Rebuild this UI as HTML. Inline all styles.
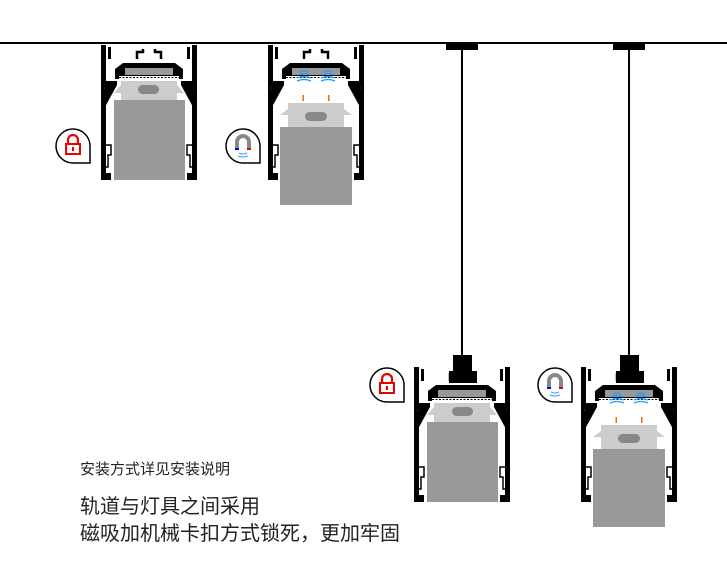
<!DOCTYPE html>
<html><head><meta charset="utf-8"><style>
html,body{margin:0;padding:0;background:#fff;}
body{width:727px;height:585px;position:relative;overflow:hidden;font-family:"Liberation Sans","Noto Sans CJK SC",sans-serif;color:#222;}
.t{position:absolute;left:80px;white-space:nowrap;}
</style></head><body>
<svg width="727" height="585" style="position:absolute;left:0;top:0">
<defs>
<g id="prof">
  <path d="M0 0 H5 V128 H10 V135 H0 Z" fill="#000"/>
  <path d="M96 0 H91 V128 H86 V135 H96 Z" fill="#000"/>
  <rect x="7" y="2" width="3" height="12" fill="#000"/>
  <rect x="86" y="2" width="3" height="12" fill="#000"/>
  <circle cx="6" cy="43" r="3" fill="#fff" stroke="#000" stroke-width="1.5"/>
  <circle cx="90" cy="43" r="3" fill="#fff" stroke="#000" stroke-width="1.5"/>
  <path d="M5 100 h5 v10 h-3 v12 h-2" fill="none" stroke="#000" stroke-width="1.5"/>
  <path d="M91 100 h-5 v10 h3 v12 h2" fill="none" stroke="#000" stroke-width="1.5"/>
  <path d="M4 36 L16 36 L16 40 L4 62 Z" fill="#000"/>
  <path d="M92 36 L80 36 L80 40 L92 62 Z" fill="#000"/>
  <path d="M14 34 V24 L22 18 H74 L82 24 V34 Z" fill="#000"/>
  <rect x="24" y="23" width="48" height="7" fill="#999"/>
  <rect x="18" y="31" width="60" height="3" fill="#fff"/>
  <line x1="18" y1="32.5" x2="78" y2="32.5" stroke="#000" stroke-width="1" stroke-dasharray="2,1.5"/>
  <path d="M36 14 V7 H42 V4 M60 14 V7 H54 V4" fill="none" stroke="#000" stroke-width="2.5"/>
</g>
<g id="lock">
  <path d="M17 0 A17 17 0 1 0 0 17 H17 Z" fill="#fff" stroke="#000" stroke-width="1.5"/>
  <path d="M-5 -2 V-6 A5 5 0 0 1 5 -6 V-2" fill="none" stroke="#e00" stroke-width="2.2"/>
  <rect x="-7" y="-2" width="14" height="10" fill="#fff" stroke="#e00" stroke-width="2"/>
  <rect x="-1" y="1" width="2" height="4" fill="#e00"/>
</g>
<g id="mag">
  <path d="M17 0 A17 17 0 1 0 0 17 H17 Z" fill="#fff" stroke="#000" stroke-width="1.5"/>
  <path d="M-6 2 V-4 A6 6 0 0 1 6 -4 V2" fill="none" stroke="#888" stroke-width="4"/>
  <rect x="-8" y="2" width="4" height="2" fill="#00f"/>
  <rect x="4" y="2" width="4" height="2" fill="#e00"/>
  <path d="M-4 7 Q0 9 4 7 M-5 10 Q0 12 5 10" fill="none" stroke="#39f" stroke-width="1"/>
</g>
<g id="waves">
  <path d="M-4 0 Q0 -2 4 0 M-6 3 Q0 0 6 3 M-7 6 Q0 3 7 6 M-7 9 Q0 6 7 9" fill="none" stroke="#29f" stroke-width="1.3"/>
</g>
</defs>
<rect x="0" y="42" width="727" height="2" fill="#000"/>

<g transform="translate(101,45)">
  <path d="M20 36 H76 V40 L83 48 H76 V58 H20 V48 H13 L20 40 Z" fill="#ccc"/>
  <rect x="37" y="40" width="21" height="9" rx="4.5" fill="#888"/>
  <rect x="13" y="55" width="71" height="80" fill="#999"/>
  <use href="#prof"/>
</g>
<use href="#lock" transform="translate(73,146)"/>

<g transform="translate(268,45)">
  <path d="M20 58 H76 V64 L84 70 H76 V82 H20 V70 H12 L20 64 Z" fill="#ccc"/>
  <rect x="37" y="67" width="22" height="9" rx="4.5" fill="#888"/>
  <rect x="12" y="82" width="72" height="78" fill="#999"/>
  <use href="#prof"/>
  <use href="#waves" transform="translate(36,27)"/>
  <use href="#waves" transform="translate(60,27)"/>
  <rect x="34.5" y="50" width="1.5" height="6" fill="#f60"/>
  <rect x="60" y="50" width="1.5" height="6" fill="#f60"/>
</g>
<use href="#mag" transform="translate(243,146)"/>

<rect x="446" y="43" width="32" height="7" fill="#000"/>
<rect x="461" y="48" width="2" height="308" fill="#000"/>
<rect x="453" y="355" width="19" height="20" fill="#000"/>
<g transform="translate(414,367)">
  <path d="M20 36 H76 V40 L83 48 H76 V58 H20 V48 H13 L20 40 Z" fill="#ccc"/>
  <rect x="38" y="40" width="21" height="9" rx="4.5" fill="#888"/>
  <rect x="13" y="55" width="71" height="80" fill="#999"/>
  <use href="#prof"/>
  <rect x="35" y="4" width="28" height="12" fill="#000"/>
</g>
<use href="#lock" transform="translate(387,385)"/>

<rect x="613" y="43" width="32" height="7" fill="#000"/>
<rect x="628" y="48" width="2" height="308" fill="#000"/>
<rect x="620" y="355" width="19" height="20" fill="#000"/>
<g transform="translate(581,367)">
  <path d="M20 58 H76 V64 L84 70 H76 V82 H20 V70 H12 L20 64 Z" fill="#ccc"/>
  <rect x="37" y="67" width="22" height="9" rx="4.5" fill="#888"/>
  <rect x="12" y="82" width="72" height="78" fill="#999"/>
  <use href="#prof"/>
  <rect x="35" y="4" width="28" height="12" fill="#000"/>
  <use href="#waves" transform="translate(36,27)"/>
  <use href="#waves" transform="translate(60,27)"/>
  <rect x="34.5" y="50" width="1.5" height="6" fill="#f60"/>
  <rect x="60" y="50" width="1.5" height="6" fill="#f60"/>
</g>
<use href="#mag" transform="translate(555,385)"/>
</svg>
<div class="t" style="top:461px;font-size:15px;line-height:18px;">安装方式详见安装说明</div>
<div class="t" style="top:495px;font-size:20px;line-height:24px;">轨道与灯具之间采用</div>
<div class="t" style="top:522px;font-size:20px;line-height:24px;">磁吸加机械卡扣方式锁死，更加牢固</div>
</body></html>
